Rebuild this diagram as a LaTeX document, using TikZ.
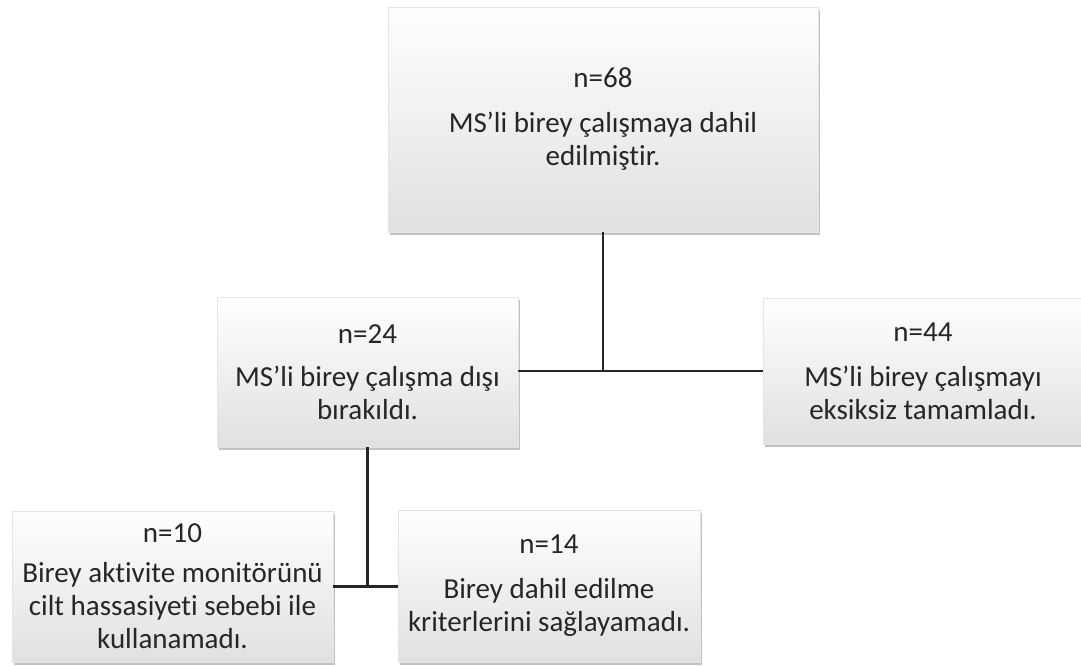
\documentclass[tikz,border=0pt]{standalone}
\usepackage{fontspec}
\setmainfont[Ligatures={NoCommon}]{Carlito}
\usetikzlibrary{shadows}
\begin{document}
\begin{tikzpicture}[x=1pt,y=-1pt,
  box/.style={rectangle, inner sep=0pt, align=center, top color=white, bottom color=gray!24,
    draw=gray!20, line width=0.4pt,
    drop shadow={shadow xshift=1.5pt, shadow yshift=-3pt, opacity=0.6, fill=gray!80},
    font=\fontsize{29}{33}\selectfont, text=black!85},
  conn/.style={line width=2.4pt, draw=black!85}]
\useasboundingbox (0,0) rectangle (1081,666);
\node[box, minimum width=430pt, minimum height=225pt] (top) at (603,119.5)
  {n=68\\[12pt]MS’li birey çalışmaya dahil\\edilmiştir.};
\node[box, minimum width=301pt, minimum height=150pt] (mid) at (367.5,372)
  {n=24\\[10pt]MS’li birey çalışma dışı\\bırakıldı.};
\node[box, minimum width=320pt, minimum height=146pt] (right) at (923,371)
  {n=44\\[12pt]MS’li birey çalışmayı\\eksiksiz tamamladı.};
\node[box, minimum width=321pt, minimum height=151pt] (bl) at (172.5,586.5)
  {n=10\\[7pt]Birey aktivite monitörünü\\cilt hassasiyeti sebebi ile\\kullanamadı.};
\node[box, minimum width=302pt, minimum height=152pt] (br) at (549,586)
  {n=14\\[12pt]Birey dahil edilme\\kriterlerini sağlayamadı.};
\coordinate (j1) at (top.south |- right.west);
\coordinate (j2) at (mid.south |- bl.east);
\draw[conn] (top.south) -- (j1);
\draw[conn] (mid.east |- j1) -- (right.west |- j1);
\draw[conn] (mid.south) -- (j2);
\draw[conn] (bl.east |- j2) -- (br.west |- j2);
\end{tikzpicture}
\end{document}
